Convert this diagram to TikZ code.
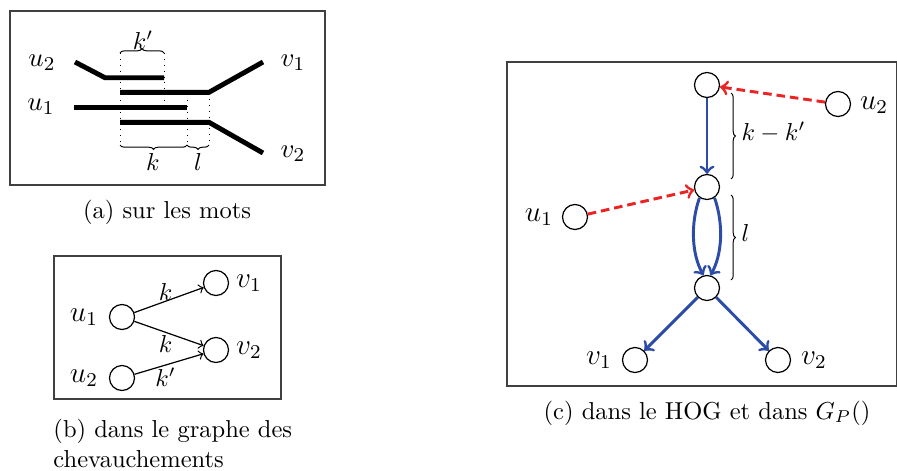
\documentclass[tikz,border=0pt]{standalone}
\usetikzlibrary{decorations.pathreplacing}
\definecolor{myblue}{RGB}{44,76,168}
\definecolor{myred}{RGB}{234,36,36}
\tikzset{
  frame/.style={draw=black!75, line width=0.7pt},
  bar/.style={line width=2pt},
  guide/.style={dotted, line width=0.4pt},
  brc/.style={decorate, decoration={brace, amplitude=1.8pt}, line width=0.4pt},
  vtx/.style={circle, draw, minimum size=10.2pt, inner sep=0pt, line width=0.5pt},
  lblA/.style={inner sep=0pt, font=\fontsize{11}{13}\selectfont},
  lbl/.style={inner sep=0pt, font=\large},
  elbl/.style={inner sep=1pt},
  thinedge/.style={->, line width=0.5pt},
  blueedge/.style={->, draw=myblue, line width=1.2pt},
  rededge/.style={->, draw=myred, line width=1.2pt, dash pattern=on 3.5pt off 2pt},
}
\begin{document}
\begin{tikzpicture}[x=0.408pt, y=-0.408pt]
\useasboundingbox (0,0) rectangle (897,470);

% ---------- (a) ----------
\draw[frame] (10,11) rectangle (325,185);
\draw[bar] (75,62) -- (105,77.7) -- (164,77.7);
\draw[bar] (120,92.3) -- (209,92.3) -- (263,62);
\draw[bar] (74,107.3) -- (187,107.3);
\draw[bar] (120,122.3) -- (209,122.3) -- (263,153);
\draw[guide] (120,53) -- (120,144);
\draw[guide] (164,53) -- (164,103);
\draw[guide] (187,94) -- (187,144);
\draw[guide] (209,93) -- (209,144);
\draw[brc] (120,53) -- (164,53);
\draw[brc] (187,145) -- (120,145);
\draw[brc] (209,145) -- (187,145);
\node[lblA] (ta-u2) at (42,63) {$u_2$};
\node[lblA] (ta-u1) at (41,107) {$u_1$};
\node[lblA] (ta-v1) at (293,63) {$v_1$};
\node[lblA] (ta-v2) at (293,154) {$v_2$};
\node[inner sep=0pt] (ta-kp) at (143,40) {$k'$};
\node[inner sep=0pt] (ta-k) at (153,162) {$k$};
\node[inner sep=0pt] (ta-l) at (198,162) {$l$};
\node[anchor=base] (capa) at (167,218) {(a) sur les mots};

% ---------- (b) ----------
\draw[frame] (54,256) rectangle (281,399);
\node[vtx] (bu1) at (122,317) {};
\node[vtx] (bv1) at (216,283) {};
\node[vtx] (bv2) at (216,350) {};
\node[vtx] (bu2) at (122,378) {};
\node[lbl] (tb-u1) at (84,317) {$u_1$};
\node[lbl] (tb-u2) at (84,378) {$u_2$};
\node[lbl] (tb-v1) at (249,283) {$v_1$};
\node[lbl] (tb-v2) at (249,350) {$v_2$};
\draw[thinedge] (bu1) -- node[elbl, pos=0.45, anchor=south, inner sep=0pt] {$k$} (bv1);
\draw[thinedge] (bu1) -- node[elbl, pos=0.45, below] {$k$} (bv2);
\draw[thinedge] (bu2) -- node[elbl, pos=0.45, below] {$k'$} (bv2);
\node[anchor=base west, align=left, inner sep=0pt] (capb) at (53,467) {(b) dans le graphe des\\chevauchements};

% ---------- (c) ----------
\draw[frame] (507,62) rectangle (897,386);
\node[vtx] (A) at (707,85) {};
\node[vtx] (B) at (707,187) {};
\node[vtx] (C) at (707,288) {};
\node[vtx] (cu2) at (838,104) {};
\node[vtx] (cu1) at (575,217) {};
\node[vtx] (cv1) at (635,360) {};
\node[vtx] (cv2) at (778,360) {};
\node[lbl] (tc-u2) at (874,105) {$u_2$};
\node[lbl] (tc-u1) at (539,217) {$u_1$};
\node[lbl] (tc-v1) at (599,360) {$v_1$};
\node[lbl] (tc-v2) at (814,360) {$v_2$};
\draw[blueedge] (A) -- (B);
\draw[blueedge] (B.235) .. controls (690,225) and (692,255) .. (C.105);
\draw[blueedge] (B.305) .. controls (724,225) and (722,255) .. (C.75);
\draw[blueedge] (C) -- (cv1);
\draw[blueedge] (C) -- (cv2);
\draw[rededge] (cu2) -- (A);
\draw[rededge] (cu1) -- (B);
\draw[brc] (731,93) -- (731,179);
\draw[brc] (731,195) -- (731,280);
\node[inner sep=0pt, anchor=west] (tc-kk) at (741,132) {$k-k'$};
\node[inner sep=0pt, anchor=west] (tc-l) at (741,233) {$l$};
\node[anchor=base] (capc) at (707,419) {(c) dans le HOG et dans $G_P()$};
\end{tikzpicture}
\end{document}
